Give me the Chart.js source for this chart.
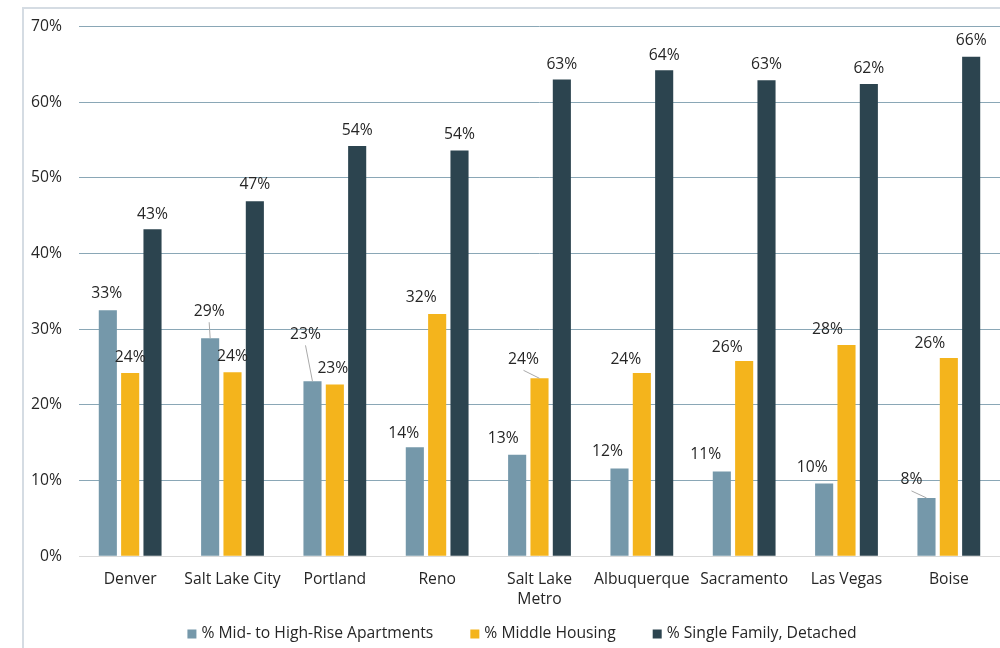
<!DOCTYPE html>
<html>
<head>
<meta charset="utf-8">
<script src="https://cdn.jsdelivr.net/npm/chart.js@4.4.1/dist/chart.umd.min.js"></script>
<style>
  html, body { margin: 0; padding: 0; background: #ffffff; overflow: hidden; width: 1000px; height: 648px; }
  #frame { position: absolute; left: 22px; top: 7px; width: 1100px; height: 700px;
           border-left: 2px solid #d5dce3; border-top: 2px solid #d5dce3; }
  #wrap { position: absolute; left: 0; top: 0; width: 1044px; height: 648px; }
</style>
</head>
<body>
<div id="frame"></div>
<div id="wrap"><canvas id="c"></canvas></div>
<script>
// ---- data ----
const categories = ["Denver", "Salt Lake City", "Portland", "Reno", ["Salt Lake", "Metro"], "Albuquerque", "Sacramento", "Las Vegas", "Boise"];
const seriesNames = ["% Mid- to High-Rise Apartments", "% Middle Housing", "% Single Family, Detached"];
const midHighRise = [32.5, 28.8, 23.1, 14.4, 13.4, 11.6, 11.2, 9.6, 7.7];
const middleHousing = [24.2, 24.3, 22.7, 32.0, 23.5, 24.2, 25.8, 27.9, 26.2];
const singleFamily = [43.2, 46.9, 54.2, 53.6, 63.0, 64.2, 62.9, 62.4, 66.0];
const yTicks = [0, 10, 20, 30, 40, 50, 60, 70];

// ---- styling ----
const colors = ["#7598aa", "#f4b41c", "#2c444f"];
const FONT = "'Open Sans', 'Noto Sans', sans-serif";
const FS = 15.7;
const TEXT = "#262626";
// label nudges [dx, dy(center above bar top), leader]
const labelNudge = [
  [[-1,-17,0],[-1,-27,1],[-7,-47,1],[-11,-14,0],[-14,-16,0],[-12,-17,0],[-16,-17,0],[-12,-16,0],[-15,-18,1]],
  [[0,-16,0],[0,-16,0],[-2,-16,0],[-16,-16,0],[-16,-19,1],[-16,-14,0],[-17,-13,0],[-19,-16,0],[-19,-14,0]],
  [[0,-15,0],[0,-17,0],[0,-15,0],[0,-16,0],[0,-15,0],[0,-15,0],[0,-16,0],[0,-15,0],[0,-16,0]]
];

const valueLabels = {
  id: 'valueLabels',
  afterDatasetsDraw(chart) {
    const ctx = chart.ctx;
    ctx.save();
    ctx.font = FS + "px " + FONT;
    ctx.fillStyle = TEXT;
    ctx.textAlign = "center";
    ctx.textBaseline = "middle";
    chart.data.datasets.forEach((ds, di) => {
      const meta = chart.getDatasetMeta(di);
      meta.data.forEach((bar, i) => {
        const v = ds.data[i];
        const [dx, dy, leader] = labelNudge[di][i];
        const lx = bar.x + dx, ly = bar.y + dy;
        ctx.fillText(Math.round(v) + "%", lx, ly);
        if (leader) {
          ctx.strokeStyle = "#a9a9a9";
          ctx.lineWidth = 1;
          ctx.beginPath();
          ctx.moveTo(lx, ly + 11);
          ctx.lineTo(bar.x, bar.y);
          ctx.stroke();
        }
      });
    });
    ctx.restore();
  }
};

const bottomLegend = {
  id: 'bottomLegend',
  afterDraw(chart) {
    const ctx = chart.ctx;
    ctx.save();
    ctx.font = FS + "px " + FONT;
    ctx.textBaseline = "middle";
    ctx.textAlign = "left";
    const box = 9, gapBox = 5, gapItem = 37, y = 634;
    const items = chart.data.datasets.map(ds => ({ text: ds.label, color: ds.backgroundColor, w: ctx.measureText(ds.label).width }));
    const total = items.reduce((s, it) => s + box + gapBox + it.w, 0) + gapItem * (items.length - 1);
    let x = chart.width / 2 - total / 2;
    items.forEach(it => {
      ctx.fillStyle = it.color;
      ctx.fillRect(x, y - box / 2, box, box);
      ctx.fillStyle = TEXT;
      ctx.fillText(it.text, x + box + gapBox, y);
      x += box + gapBox + it.w + gapItem;
    });
    ctx.restore();
  }
};

const datasets = [midHighRise, middleHousing, singleFamily].map((d, k) => ({
  label: seriesNames[k],
  data: d,
  backgroundColor: colors[k],
  borderWidth: 0,
  categoryPercentage: 0.655,
  barPercentage: 0.81
}));

new Chart(document.getElementById('c'), {
  type: 'bar',
  data: { labels: categories, datasets },
  options: {
    responsive: true,
    maintainAspectRatio: false,
    animation: false,
    layout: { padding: { top: 25, left: 0, right: 44, bottom: 25 } },
    scales: {
      x: {
        grid: { display: false, drawTicks: false },
        border: { display: false },
        ticks: { color: TEXT, font: { family: FONT, size: FS, lineHeight: 1.3 }, padding: 13, maxRotation: 0, autoSkip: false }
      },
      y: {
        min: 0, max: 70,
        afterBuildTicks(scale) { scale.ticks = yTicks.map(v => ({ value: v })); },
        grid: {
          drawTicks: false,
          color: ctx => (ctx.tick && ctx.tick.value === 0) ? "#d9d9d9" : "#8aa7b6",
          lineWidth: 1
        },
        border: { display: false },
        ticks: { color: TEXT, font: { family: FONT, size: FS }, padding: 17, callback: v => v + "%" },
        afterFit(scale) { scale.width = 79; }
      }
    },
    plugins: {
      legend: { display: false },
      tooltip: { enabled: false }
    }
  },
  plugins: [valueLabels, bottomLegend]
});
</script>
</body>
</html>
